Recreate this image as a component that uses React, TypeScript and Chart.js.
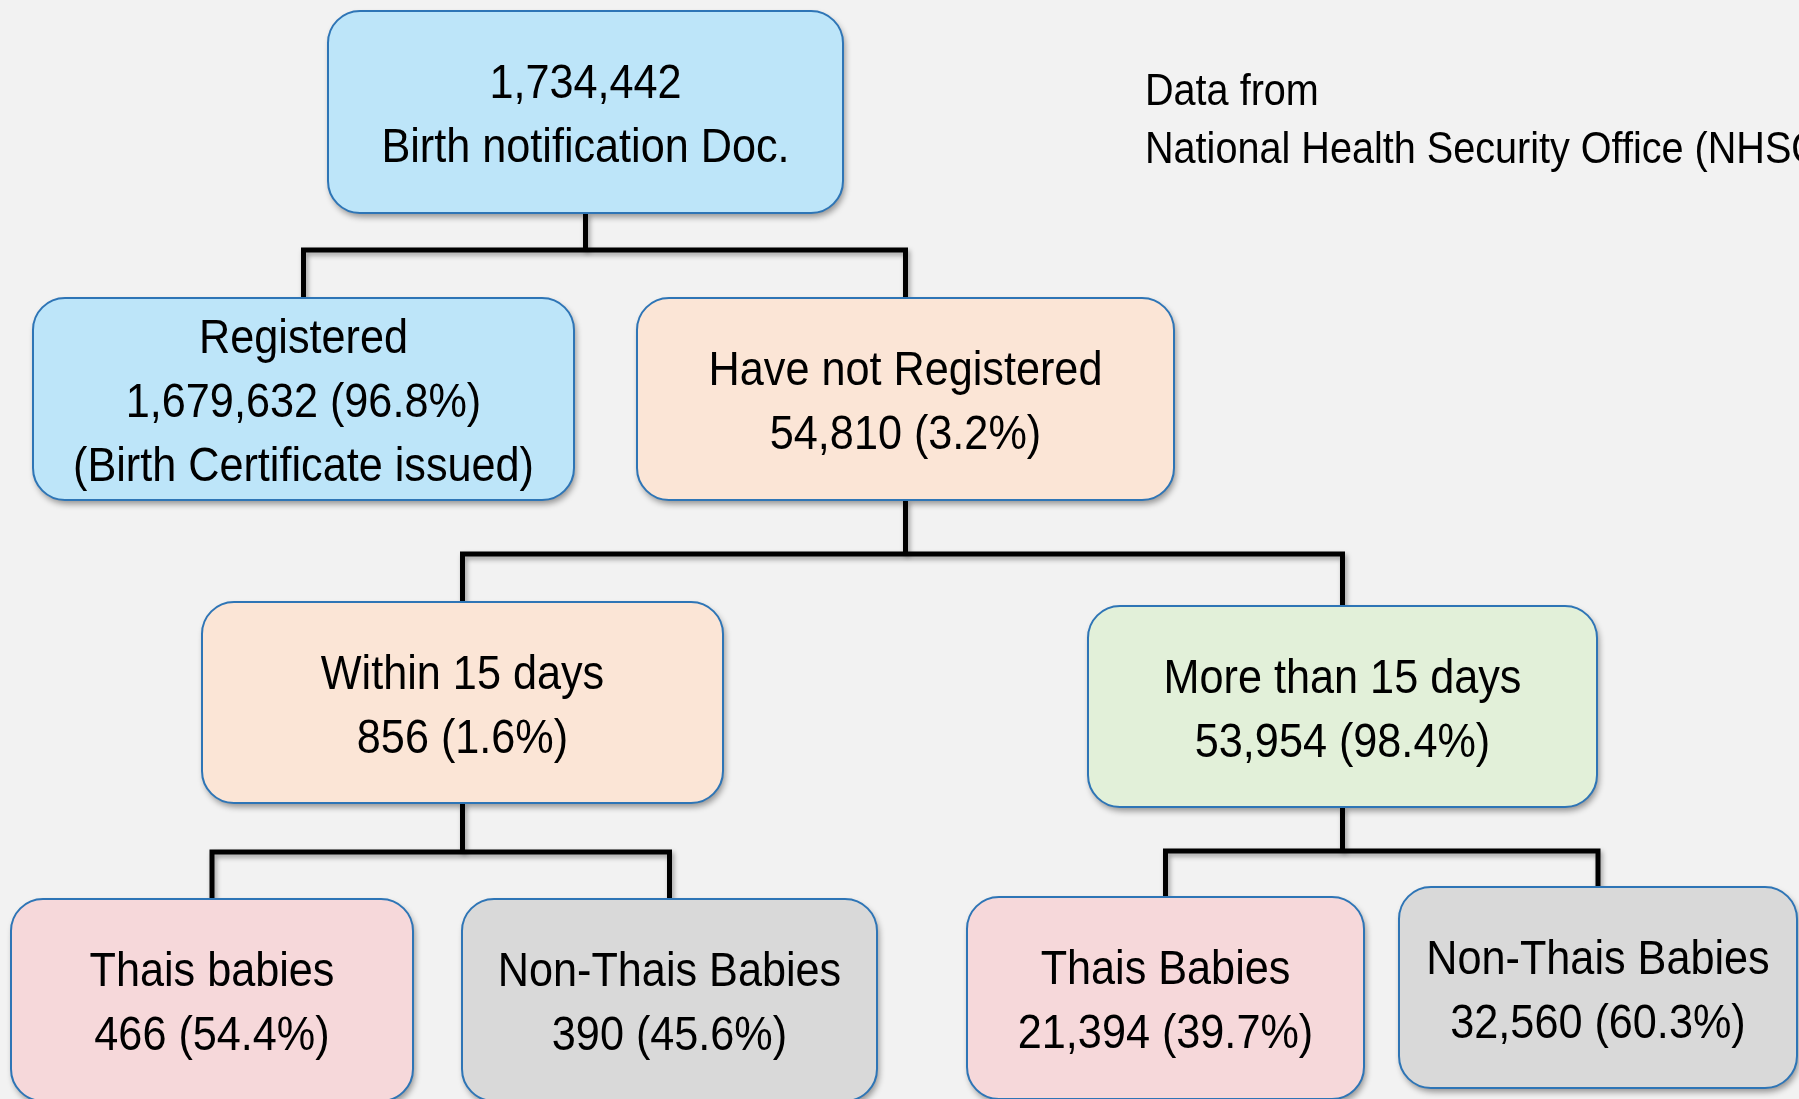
import React, { useEffect, useRef } from "react";
import { Chart, registerables } from "chart.js";

Chart.register(...registerables);

// ---- data ----
const NODE_NAMES = [
  "Birth notification Doc.",
  "Registered",
  "Have not Registered",
  "Within 15 days",
  "More than 15 days",
  "Thais babies",
  "Non-Thais Babies",
  "Thais Babies",
  "Non-Thais Babies",
];
const NODE_COUNTS = [1734442, 1679632, 54810, 856, 53954, 466, 390, 21394, 32560];
const NODE_SHARES: (number | null)[] = [null, 96.8, 3.2, 1.6, 98.4, 54.4, 45.6, 39.7, 60.3];
const NODE_NOTES = ["", "(Birth Certificate issued)", "", "", "", "", "", "", ""];
const NODE_PARENT = [-1, 0, 0, 2, 2, 3, 3, 4, 4];
const SOURCE_LINES = ["Data from", "National Health Security Office (NHSO)"];

// ---- layout (pixel-space data units of the hidden axes) ----
const BOX_LEFT = [328, 33, 637, 202, 1088, 11, 462, 967, 1399];
const BOX_RIGHT = [843, 574, 1174, 723, 1597, 413, 877, 1364, 1797];
const BOX_TOP = [11, 298, 298, 602, 606, 899, 899, 897, 887];
const BOX_BOTTOM = [213, 500, 500, 803, 807, 1101, 1101, 1099, 1088];
const BUS_Y: Record<number, number> = { 0: 250, 2: 554, 3: 852, 4: 851 };
const SOURCE_POS = { x: 1145, y: 93 };

// ---- styles ----
const FILLS = ["#BDE5F9", "#BDE5F9", "#FBE5D6", "#FBE5D6", "#E2F0D9", "#F6D8DA", "#D9D9D9", "#F6D8DA", "#D9D9D9"];
const BORDER = "#2E75B6";
const BG = "#F2F2F2";
const FONT = "'Liberation Sans', Arial, Helvetica, sans-serif";
const SQUEEZE = 0.9;

function nodeLines(i: number): string[] {
  const count = NODE_COUNTS[i].toLocaleString("en-US");
  if (NODE_SHARES[i] === null) return [count, NODE_NAMES[i]];
  const lines = [NODE_NAMES[i], `${count} (${(NODE_SHARES[i] as number).toFixed(1)}%)`];
  if (NODE_NOTES[i]) lines.push(NODE_NOTES[i]);
  return lines;
}

function cx(i: number) {
  return (BOX_LEFT[i] + BOX_RIGHT[i]) / 2;
}

function buildConnectors() {
  const sets: any[] = [];
  const parents = Array.from(new Set(NODE_PARENT.filter((p) => p >= 0)));
  parents.forEach((p) => {
    const kids = NODE_PARENT.map((q, i) => (q === p ? i : -1)).filter((i) => i >= 0);
    const bus = BUS_Y[p];
    sets.push([
      { x: cx(p), y: BOX_BOTTOM[p] },
      { x: cx(p), y: bus },
    ]);
    const a = kids[0];
    const b = kids[kids.length - 1];
    sets.push([
      { x: cx(a), y: BOX_TOP[a] },
      { x: cx(a), y: bus },
      { x: cx(b), y: bus },
      { x: cx(b), y: BOX_TOP[b] },
    ]);
  });
  return sets;
}

function roundRect(ctx: CanvasRenderingContext2D, x: number, y: number, w: number, h: number, r: number) {
  ctx.beginPath();
  ctx.moveTo(x + r, y);
  ctx.lineTo(x + w - r, y);
  ctx.arcTo(x + w, y, x + w, y + r, r);
  ctx.lineTo(x + w, y + h - r);
  ctx.arcTo(x + w, y + h, x + w - r, y + h, r);
  ctx.lineTo(x + r, y + h);
  ctx.arcTo(x, y + h, x, y + h - r, r);
  ctx.lineTo(x, y + r);
  ctx.arcTo(x, y, x + r, y, r);
  ctx.closePath();
}

const treePlugin = {
  id: "tree",
  beforeDraw(chart: any) {
    const ctx = chart.ctx;
    ctx.save();
    ctx.fillStyle = BG;
    ctx.fillRect(0, 0, chart.width, chart.height);
    ctx.restore();
  },
  beforeDatasetsDraw(chart: any) {
    const ctx = chart.ctx;
    ctx.save();
    ctx.shadowColor = "rgba(0,0,0,0.35)";
    ctx.shadowBlur = 5;
    ctx.shadowOffsetX = 2;
    ctx.shadowOffsetY = 3;
  },
  afterDatasetsDraw(chart: any) {
    const ctx = chart.ctx;
    ctx.restore();
    const xs = chart.scales.x;
    const ys = chart.scales.y;
    for (let i = 0; i < NODE_NAMES.length; i++) {
      const x0 = xs.getPixelForValue(BOX_LEFT[i]);
      const x1 = xs.getPixelForValue(BOX_RIGHT[i]);
      const y0 = ys.getPixelForValue(BOX_TOP[i]);
      const y1 = ys.getPixelForValue(BOX_BOTTOM[i]);
      ctx.save();
      roundRect(ctx, x0, y0, x1 - x0, y1 - y0, 32);
      ctx.shadowColor = "rgba(0,0,0,0.4)";
      ctx.shadowBlur = 6;
      ctx.shadowOffsetX = 2;
      ctx.shadowOffsetY = 4;
      ctx.fillStyle = FILLS[i];
      ctx.fill();
      ctx.shadowColor = "transparent";
      ctx.lineWidth = 2;
      ctx.strokeStyle = BORDER;
      ctx.stroke();
      const lines = nodeLines(i);
      const mid = (y0 + y1) / 2 + 5;
      const lh = 64;
      const cxp = (x0 + x1) / 2;
      ctx.fillStyle = "#000";
      ctx.font = `48px ${FONT}`;
      ctx.textAlign = "center";
      ctx.textBaseline = "middle";
      lines.forEach((t, k) => {
        const ty = mid + (k - (lines.length - 1) / 2) * lh;
        ctx.save();
        ctx.translate(cxp, ty);
        ctx.scale(SQUEEZE, 1);
        ctx.fillText(t, 0, 0);
        ctx.restore();
      });
      ctx.restore();
    }
    // source note
    ctx.save();
    ctx.fillStyle = "#000";
    ctx.font = `44px ${FONT}`;
    ctx.textAlign = "left";
    ctx.textBaseline = "middle";
    const sx = xs.getPixelForValue(SOURCE_POS.x);
    SOURCE_LINES.forEach((t, k) => {
      const sy = ys.getPixelForValue(SOURCE_POS.y + k * 58);
      ctx.save();
      ctx.translate(sx, sy);
      ctx.scale(SQUEEZE, 1);
      ctx.fillText(t, 0, 0);
      ctx.restore();
    });
    ctx.restore();
  },
};

export default function App() {
  const ref = useRef<HTMLCanvasElement | null>(null);
  useEffect(() => {
    if (!ref.current) return;
    const connectors = buildConnectors();
    const datasets: any[] = connectors.map((pts) => ({
      data: pts,
      showLine: true,
      borderColor: "#000",
      borderWidth: 5,
      pointRadius: 0,
      borderJoinStyle: "miter",
      borderCapStyle: "butt",
      tension: 0,
    }));
    datasets.push({
      data: NODE_NAMES.map((_, i) => ({ x: cx(i), y: (BOX_TOP[i] + BOX_BOTTOM[i]) / 2 })),
      pointRadius: 0,
      showLine: false,
    });
    const chart = new Chart(ref.current, {
      type: "scatter",
      data: { datasets },
      options: {
        animation: false,
        responsive: false,
        events: [],
        layout: { padding: 0 },
        plugins: { legend: { display: false }, tooltip: { enabled: false }, title: { display: false } },
        scales: {
          x: { type: "linear", min: 0, max: 1799, display: false },
          y: { type: "linear", min: 0, max: 1099, reverse: true, display: false },
        },
      },
      plugins: [treePlugin],
    } as any);
    return () => chart.destroy();
  }, []);
  return (
    <div style={{ position: "absolute", left: 0, top: 0, width: 1799, height: 1099, background: BG }}>
      <canvas ref={ref} width={1799} height={1099} style={{ display: "block" }} />
    </div>
  );
}
